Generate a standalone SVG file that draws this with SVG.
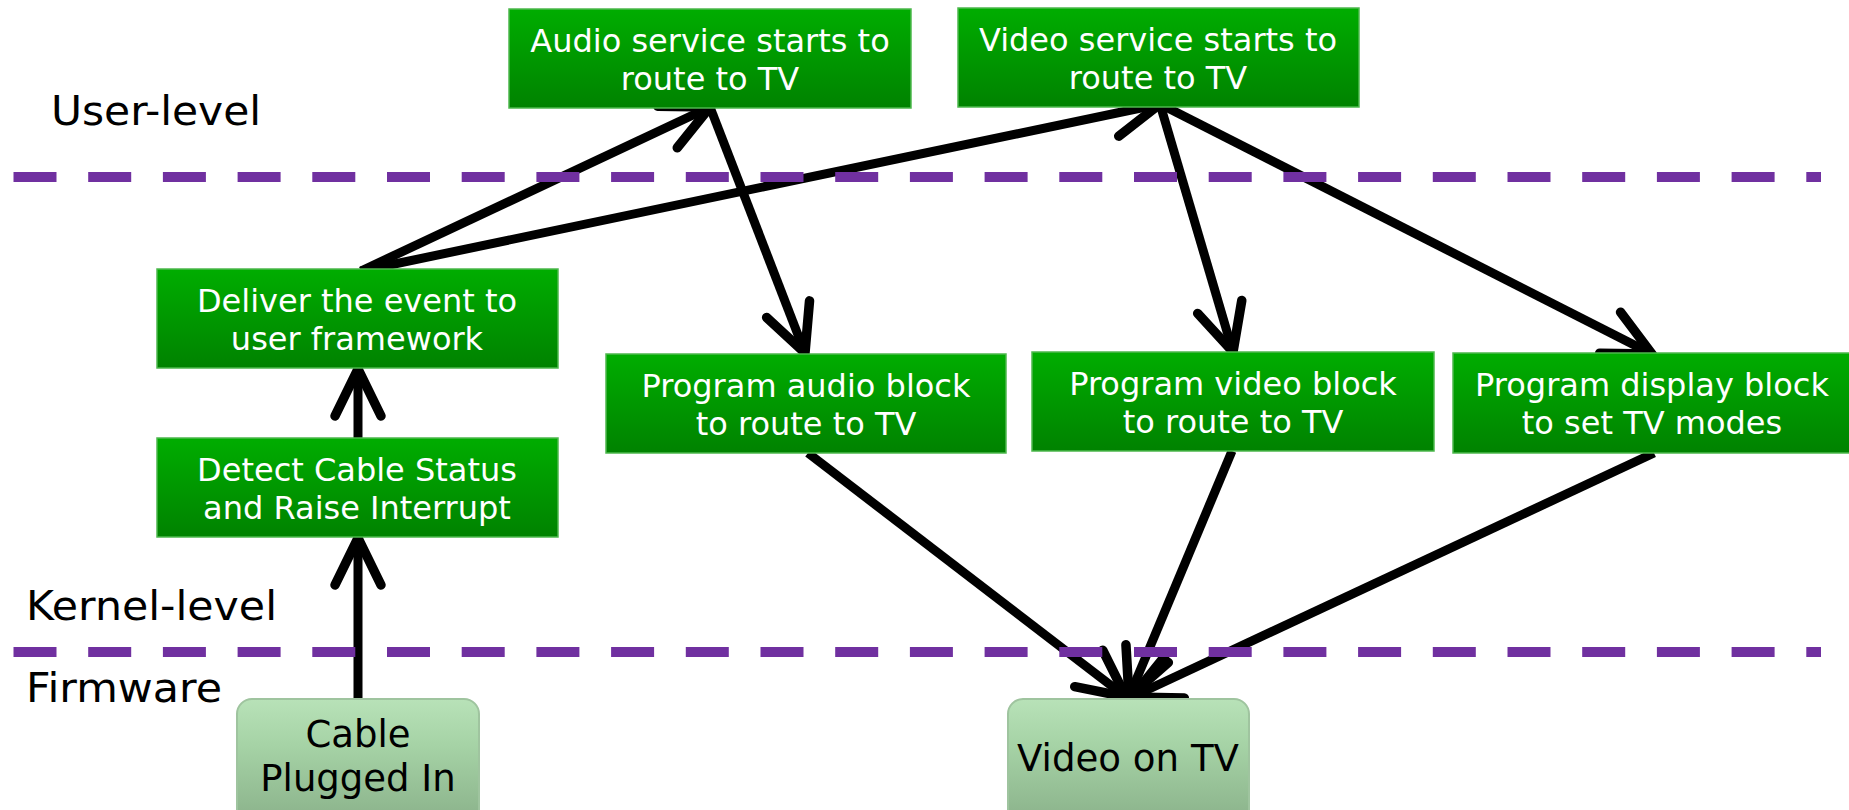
<svg xmlns="http://www.w3.org/2000/svg" width="1849" height="810" viewBox="0 0 1849 810">
<defs>
  <linearGradient id="gGreen" x1="0" y1="0" x2="0" y2="1">
    <stop offset="0" stop-color="#00AD00"/>
    <stop offset="1" stop-color="#008200"/>
  </linearGradient>
  <linearGradient id="gLight" x1="0" y1="0" x2="0" y2="1">
    <stop offset="0" stop-color="#B8E2B8"/>
    <stop offset="0.35" stop-color="#A6D3A6"/>
    <stop offset="1" stop-color="#88AF88"/>
  </linearGradient>
  <marker id="arr" markerUnits="userSpaceOnUse" orient="auto" refX="0" refY="0" markerWidth="80" markerHeight="80" viewBox="-60 -40 80 80" overflow="visible">
    <path d="M-47,-23 L0,0 L-47,23" fill="none" stroke="#000" stroke-width="9.5" stroke-linecap="round" stroke-linejoin="miter" stroke-miterlimit="10"/>
  </marker>
  <style>
    .box { fill: url(#gGreen); stroke: #4DB84D; stroke-width: 1.5; }
    .lbox { fill: url(#gLight); stroke: #9FC49F; stroke-width: 2; }
    .t { font-family: "DejaVu Sans", Verdana, sans-serif; font-size: 32px; fill: #FFFFFF; text-anchor: middle; }
    .tl { font-family: "DejaVu Sans", Verdana, sans-serif; font-size: 37px; fill: #000000; text-anchor: middle; }
    .lvl { font-family: "DejaVu Sans", Verdana, sans-serif; font-size: 41px; fill: #000000; }
    .sep { stroke: #7030A0; stroke-width: 10; stroke-dasharray: 43 31.7; fill: none; }
    .c { stroke: #000; stroke-width: 9; fill: none; stroke-linecap: butt; marker-end: url(#arr); }
  </style>
</defs>
<rect width="1849" height="810" fill="#FFFFFF"/>

<g id="labels">
  <text class="lvl" x="51" y="125" textLength="210" lengthAdjust="spacingAndGlyphs">User-level</text>
  <text class="lvl" x="26" y="620" textLength="251" lengthAdjust="spacingAndGlyphs">Kernel-level</text>
  <text class="lvl" x="26" y="702" textLength="196" lengthAdjust="spacingAndGlyphs">Firmware</text>
</g>

<g id="connectors">
  <line class="c" x1="358" y1="699" x2="358" y2="538"/>
  <line class="c" x1="358" y1="438" x2="358" y2="369"/>
  <line class="c" x1="361" y1="271" x2="710" y2="107"/>
  <line class="c" x1="361" y1="271" x2="1160" y2="104"/>
  <line class="c" x1="710" y1="107" x2="805" y2="353"/>
  <line class="c" x1="1160" y1="104" x2="1233" y2="352"/>
  <line class="c" x1="1160" y1="104" x2="1652" y2="354"/>
  <line class="c" x1="808" y1="453" x2="1126" y2="697"/>
  <line class="c" x1="1232" y1="451" x2="1129" y2="697"/>
  <line class="c" x1="1654" y1="453" x2="1132" y2="697"/>
</g>

<g id="node-audio-service">
  <rect class="box" x="509" y="9" width="402" height="99"/>
  <text class="t" x="710" y="52">Audio service starts to</text>
  <text class="t" x="710" y="90">route to TV</text>
</g>
<g id="node-video-service">
  <rect class="box" x="958" y="8" width="401" height="99"/>
  <text class="t" x="1158" y="51">Video service starts to</text>
  <text class="t" x="1158" y="89">route to TV</text>
</g>
<g id="node-deliver">
  <rect class="box" x="157" y="269" width="401" height="99"/>
  <text class="t" x="357" y="312">Deliver the event to</text>
  <text class="t" x="357" y="350">user framework</text>
</g>
<g id="node-detect">
  <rect class="box" x="157" y="438" width="401" height="99"/>
  <text class="t" x="357" y="481">Detect Cable Status</text>
  <text class="t" x="357" y="519">and Raise Interrupt</text>
</g>
<g id="node-audio-program">
  <rect class="box" x="606" y="354" width="400" height="99"/>
  <text class="t" x="806" y="397">Program audio block</text>
  <text class="t" x="806" y="435">to route to TV</text>
</g>
<g id="node-video-program">
  <rect class="box" x="1032" y="352" width="402" height="99"/>
  <text class="t" x="1233" y="395">Program video block</text>
  <text class="t" x="1233" y="433">to route to TV</text>
</g>
<g id="node-display-program">
  <rect class="box" x="1453" y="353" width="410" height="100"/>
  <text class="t" x="1652" y="396">Program display block</text>
  <text class="t" x="1652" y="434">to set TV modes</text>
</g>
<g id="node-cable">
  <rect class="lbox" x="237" y="699" width="242" height="130" rx="15" ry="15"/>
  <text class="tl" x="358" y="747">Cable</text>
  <text class="tl" x="358" y="791">Plugged In</text>
</g>
<g id="node-video-tv">
  <rect class="lbox" x="1008" y="699" width="241" height="130" rx="15" ry="15"/>
  <text class="tl" x="1128" y="771" textLength="222" lengthAdjust="spacingAndGlyphs">Video on TV</text>
</g>

<g id="separators">
  <line class="sep" x1="13.5" y1="177" x2="1821" y2="177"/>
  <line class="sep" x1="13.5" y1="652" x2="1821" y2="652"/>
</g>
</svg>
